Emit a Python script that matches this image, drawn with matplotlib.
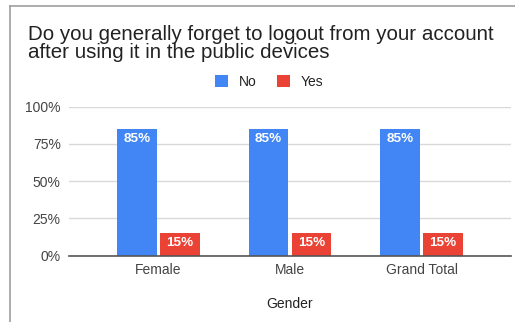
import matplotlib
matplotlib.use("Agg")
import matplotlib.pyplot as plt
from matplotlib.lines import Line2D
from matplotlib.patches import Patch
import numpy as np

categories = ["Female", "Male", "Grand Total"]
no_share = [0.85, 0.85, 0.85]
yes_share = [0.15, 0.15, 0.15]
y_ticks = [0.0, 0.25, 0.50, 0.75, 1.00]
y_tick_labels = ["0%", "25%", "50%", "75%", "100%"]
title = ("Do you generally forget to logout from your account\n"
         "after using it in the public devices")

BLUE = "#4285F4"
RED = "#EA4335"
FONT = ["Liberation Sans", "DejaVu Sans"]

plt.rcParams["font.family"] = FONT

W, H = 515, 322
fig = plt.figure(figsize=(W / 100, H / 100), dpi=100)

def fx(px):
    return px / W

def fy(py):
    return 1 - py / H

# card border (top and left edges)
fig.add_artist(Line2D([fx(10), fx(10)], [fy(6), 0], transform=fig.transFigure,
                      color="#9e9e9e", lw=1.2))
fig.add_artist(Line2D([fx(10), 1], [fy(6), fy(6)], transform=fig.transFigure,
                      color="#9e9e9e", lw=1.2))

ax = fig.add_axes([fx(69), fy(255.7), fx(511) - fx(69), fy(106.5) - fy(255.7)])

x = np.arange(len(categories))
width = 0.30
offset = 0.163
bars_no = ax.bar(x - offset, no_share, width, color=BLUE, zorder=3)
bars_yes = ax.bar(x + offset, yes_share, width, color=RED, zorder=3)

for bars, vals in ((bars_no, no_share), (bars_yes, yes_share)):
    for b, v in zip(bars, vals):
        ax.annotate(f"{v:.0%}", (b.get_x() + b.get_width() / 2, v),
                    xytext=(0, -3), textcoords="offset points",
                    ha="center", va="top", color="white",
                    fontsize=9.7, fontweight="bold", zorder=4)

ax.set_xlim(-0.68, 2.68)
ax.set_ylim(0, 1)
ax.set_yticks(y_ticks)
ax.set_yticklabels(y_tick_labels)
ax.set_xticks(x)
ax.set_xticklabels(categories)
ax.tick_params(axis="both", length=0, labelsize=10, labelcolor="#444444")
ax.tick_params(axis="y", pad=6)
ax.tick_params(axis="x", pad=5)
ax.grid(axis="y", color="#d9d9d9", lw=1, zorder=0)
for s in ("top", "right", "left"):
    ax.spines[s].set_visible(False)
ax.spines["bottom"].set_color("#555555")
ax.spines["bottom"].set_linewidth(1.2)
ax.spines["bottom"].set_zorder(5)
ax.set_facecolor("none")

ax.set_xlabel("Gender", fontsize=10, color="#222222", labelpad=15)

# baseline of the last title line
fig.text(fx(28), fy(58.3), title, ha="left", va="baseline",
         fontsize=14.8, color="#222222", linespacing=0.96)

handles = [Patch(facecolor=BLUE, label="No"), Patch(facecolor=RED, label="Yes")]
fig.legend(handles=handles, loc="center", bbox_to_anchor=(fx(269), fy(82)),
           ncol=2, frameon=False, fontsize=10, handlelength=0.95, handleheight=0.95,
           handletextpad=0.75, columnspacing=1.5, labelcolor="#222222")

fig.savefig("out.png", dpi=100, facecolor="white")
